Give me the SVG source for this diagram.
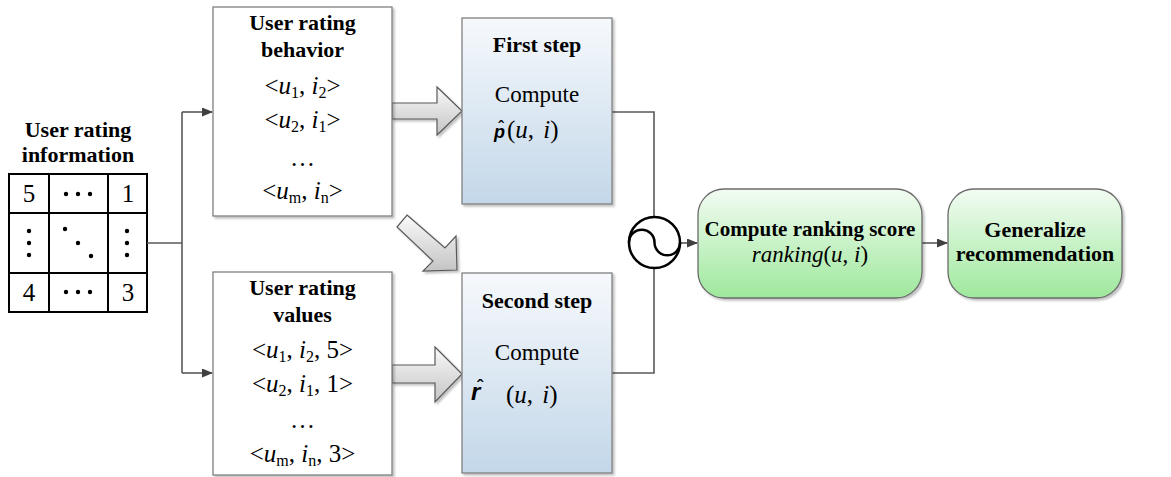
<svg xmlns="http://www.w3.org/2000/svg" width="1171" height="477" viewBox="0 0 1171 477" font-family="'Liberation Serif', 'Times New Roman', serif">
<style>
text{font-family:"Liberation Serif","Times New Roman",serif;fill:#000}
.b{font-weight:bold;font-size:22px;text-anchor:middle}
.r{font-size:25px;text-anchor:middle}
.c{font-size:23px;text-anchor:middle}
.it{font-style:italic}
.sub{font-size:16px}
.grid{fill:none;stroke:#000;stroke-width:2}
.dot{fill:#000}
.conn{fill:none;stroke:#595959;stroke-width:1.6}
.box{fill:#fff;stroke:#808080;stroke-width:1.3}
.step{fill:url(#gBlue);stroke:#808080;stroke-width:1.3}
.gbox{fill:url(#gGreen);stroke:#6b6b6b;stroke-width:1.3}
.barrow{fill:url(#gGray);stroke:#595959;stroke-width:1.2}
.sym{font-family:"Liberation Sans",Arial,sans-serif;font-weight:bold;font-style:italic}
.hat{font-family:"Liberation Sans",Arial,sans-serif;font-weight:bold;text-anchor:middle}
</style>
<defs>
<linearGradient id="gBlue" x1="0" y1="0" x2="0" y2="1"><stop offset="0" stop-color="#f6f9fc"/><stop offset="1" stop-color="#c3d7e9"/></linearGradient>
<linearGradient id="gGreen" x1="0" y1="0" x2="0" y2="1"><stop offset="0" stop-color="#f3fcf3"/><stop offset="1" stop-color="#9ee89c"/></linearGradient>
<linearGradient id="gGray" x1="0" y1="0" x2="0" y2="1"><stop offset="0" stop-color="#fafafa"/><stop offset="1" stop-color="#c4c4c4"/></linearGradient>
<filter id="sh" x="-10%" y="-10%" width="130%" height="130%"><feDropShadow dx="2" dy="2" stdDeviation="1.2" flood-color="#000" flood-opacity="0.25"/></filter>
<marker id="ah" markerWidth="11" markerHeight="9" refX="10" refY="4.5" orient="auto" markerUnits="userSpaceOnUse"><path d="M0,0 L11,4.5 L0,9 Z" fill="#404040"/></marker>
</defs>

<g id="table">
<text class="b" x="78" y="137">User rating</text>
<text class="b" x="78" y="162">information</text>
<rect class="grid" x="9" y="174" width="138" height="138"/>
<line class="grid" x1="49" y1="174" x2="49" y2="312"/>
<line class="grid" x1="108" y1="174" x2="108" y2="312"/>
<line class="grid" x1="9" y1="213" x2="147" y2="213"/>
<line class="grid" x1="9" y1="273" x2="147" y2="273"/>
<text class="r" x="29" y="202">5</text>
<text class="r" x="128" y="202">1</text>
<text class="r" x="29" y="301">4</text>
<text class="r" x="128" y="301">3</text>
<g class="dot">
<circle cx="66" cy="194" r="2.2"/><circle cx="78" cy="194" r="2.2"/><circle cx="90" cy="194" r="2.2"/>
<circle cx="66" cy="292" r="2.2"/><circle cx="78" cy="292" r="2.2"/><circle cx="90" cy="292" r="2.2"/>
<circle cx="29" cy="231" r="2.2"/><circle cx="29" cy="243" r="2.2"/><circle cx="29" cy="255" r="2.2"/>
<circle cx="127" cy="231" r="2.2"/><circle cx="127" cy="243" r="2.2"/><circle cx="127" cy="255" r="2.2"/>
<circle cx="65" cy="229" r="2.2"/><circle cx="78" cy="243" r="2.2"/><circle cx="91" cy="256" r="2.2"/>
</g>
</g>

<g id="connectors">
<polyline class="conn" points="147,243 182,243"/>
<polyline class="conn" points="182,112 182,373"/>
<polyline class="conn" points="182,112 212,112" marker-end="url(#ah)"/>
<polyline class="conn" points="182,373 212,373" marker-end="url(#ah)"/>
<polyline class="conn" points="612,112 654,112 654,217"/>
<polyline class="conn" points="612,373 654,373 654,268"/>
<polyline class="conn" points="680,243 697,243" marker-end="url(#ah)"/>
<polyline class="conn" points="922,243 947,243" marker-end="url(#ah)"/>
<path class="barrow" filter="url(#sh)" d="M392,103 L437,103 L437,87 L462,111 L437,135 L437,119 L392,119 Z"/>
<path class="barrow" filter="url(#sh)" d="M392,365 L435,365 L435,347 L462,374 L435,402 L435,383 L392,383 Z"/>
<path class="barrow" filter="url(#sh)" d="M407,215 L445,248 L456,236 L457,270 L423,271 L433,261 L397,227 Z"/>
</g>

<g id="behavior">
<rect class="box" filter="url(#sh)" x="213" y="7" width="179" height="209"/>
<text class="b" x="302.5" y="30">User rating</text>
<text class="b" x="302.5" y="57">behavior</text>
<text class="r" x="302.5" y="94">&lt;<tspan class="it">u</tspan><tspan class="sub" dy="4">1</tspan><tspan dy="-4">, </tspan><tspan class="it">i</tspan><tspan class="sub" dy="4">2</tspan><tspan dy="-4">&gt;</tspan></text>
<text class="r" x="302.5" y="128">&lt;<tspan class="it">u</tspan><tspan class="sub" dy="4">2</tspan><tspan dy="-4">, </tspan><tspan class="it">i</tspan><tspan class="sub" dy="4">1</tspan><tspan dy="-4">&gt;</tspan></text>
<text class="r" x="302.5" y="166">…</text>
<text class="r" x="302.5" y="199">&lt;<tspan class="it">u</tspan><tspan class="sub" dy="4">m</tspan><tspan dy="-4">, </tspan><tspan class="it">i</tspan><tspan class="sub" dy="4">n</tspan><tspan dy="-4">&gt;</tspan></text>
</g>

<g id="values">
<rect class="box" filter="url(#sh)" x="213" y="272" width="179" height="203"/>
<text class="b" x="302.5" y="295">User rating</text>
<text class="b" x="302.5" y="322">values</text>
<text class="r" x="302.5" y="358">&lt;<tspan class="it">u</tspan><tspan class="sub" dy="4">1</tspan><tspan dy="-4">, </tspan><tspan class="it">i</tspan><tspan class="sub" dy="4">2</tspan><tspan dy="-4">, 5&gt;</tspan></text>
<text class="r" x="302.5" y="392">&lt;<tspan class="it">u</tspan><tspan class="sub" dy="4">2</tspan><tspan dy="-4">, </tspan><tspan class="it">i</tspan><tspan class="sub" dy="4">1</tspan><tspan dy="-4">, 1&gt;</tspan></text>
<text class="r" x="302.5" y="428">…</text>
<text class="r" x="302.5" y="462">&lt;<tspan class="it">u</tspan><tspan class="sub" dy="4">m</tspan><tspan dy="-4">, </tspan><tspan class="it">i</tspan><tspan class="sub" dy="4">n</tspan><tspan dy="-4">, 3&gt;</tspan></text>
</g>

<g id="first-step">
<rect class="step" filter="url(#sh)" x="462" y="18" width="150" height="186"/>
<text class="b" x="537" y="52">First step</text>
<text class="c" x="537" y="102">Compute</text>
<text class="sym" x="494" y="138" font-size="18">p</text>
<text class="hat" x="501" y="133" font-size="16">ˆ</text>
<text x="507" y="138" font-size="25" word-spacing="3">(<tspan class="it">u</tspan>, <tspan class="it">i</tspan>)</text>
</g>

<g id="second-step">
<rect class="step" filter="url(#sh)" x="462" y="273" width="150" height="200"/>
<text class="b" x="537" y="308">Second step</text>
<text class="c" x="537" y="360">Compute</text>
<text class="sym" x="471" y="400" font-size="24">r</text>
<text class="hat" x="480" y="393" font-size="18">ˆ</text>
<text x="506" y="403" font-size="25" word-spacing="3">(<tspan class="it">u</tspan>, <tspan class="it">i</tspan>)</text>
</g>

<g id="combine">
<circle cx="654.5" cy="242.5" r="25.5" fill="#fff" stroke="#000" stroke-width="2.5"/>
<path d="M629,242.5 A12.75,12.75 0 0 1 654.5,242.5 A12.75,12.75 0 0 0 680,242.5" fill="none" stroke="#000" stroke-width="2.5"/>
</g>

<g id="ranking">
<rect class="gbox" filter="url(#sh)" x="698" y="189" width="224" height="109" rx="26"/>
<text class="b" x="810" y="236" style="font-size:21px">Compute ranking score</text>
<text class="c" x="810" y="262"><tspan class="it">ranking</tspan>(<tspan class="it">u</tspan>, <tspan class="it">i</tspan>)</text>
</g>

<g id="generalize">
<rect class="gbox" filter="url(#sh)" x="948" y="189" width="174" height="109" rx="26"/>
<text class="b" x="1035" y="237">Generalize</text>
<text class="b" x="1035" y="261">recommendation</text>
</g>
</svg>
